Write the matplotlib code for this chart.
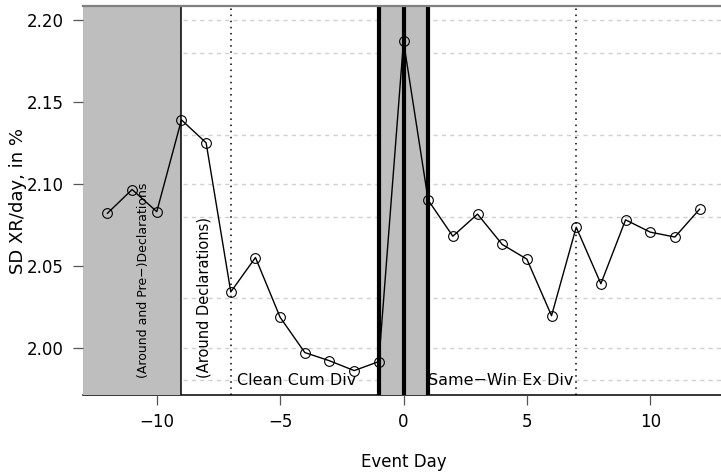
import numpy as np
import matplotlib.pyplot as plt

# SD of excess returns around the event day
days = np.arange(-12, 13)
sd_xr = [2.082, 2.0965, 2.083, 2.139, 2.125, 2.034, 2.055, 2.0185, 1.997,
         1.992, 1.986, 1.9915, 2.187, 2.090, 2.068, 2.0815, 2.063, 2.054,
         2.0195, 2.0735, 2.039, 2.078, 2.0705, 2.0675, 2.0845]

grid_levels = [1.98, 2.00, 2.03, 2.08, 2.10, 2.13, 2.18, 2.20]
y_ticks = [2.00, 2.05, 2.10, 2.15, 2.20]
x_ticks = [-10, -5, 0, 5, 10]

fig = plt.figure(figsize=(7.21, 4.72), dpi=100)
ax = fig.add_axes([83/721, 1 - 395/472, 641/721, 389/472])
ax.set_xlim(-12.99, 12.99)
ax.set_ylim(1.9711, 2.2085)

# dashed grid
for g in grid_levels:
    ax.axhline(g, color='#d0d0d0', lw=1, ls=(0, (3, 3)), zorder=0.5)

# shaded windows
ax.axvspan(-13.5, -9, color='#bebebe', lw=0, zorder=1)
ax.axvspan(-1, 1, color='#bebebe', lw=0, zorder=1)

ax.axvline(-9, color='black', lw=1.1, zorder=2)
for v in [-1, 0, 1]:
    ax.axvline(v, color='black', lw=3, zorder=2)
for v in [-7, 7]:
    ax.axvline(v, color='black', lw=1.1, ls=(0, (1, 3)), zorder=2)

ax.plot(days, sd_xr, color='black', lw=1, marker='o', ms=7,
        mfc='none', mec='black', mew=0.8, zorder=4)

ax.text(-10.55, 1.9815, '(Around and Pre\u2212)Declarations', rotation=90,
        ha='center', va='bottom', fontsize=9, zorder=5)
ax.text(-8.1, 1.9815, '(Around Declarations)', rotation=90,
        ha='center', va='bottom', fontsize=10.5, zorder=5)
ax.text(-6.75, 1.9802, 'Clean Cum Div', ha='left', va='center',
        fontsize=11.5, zorder=5)
ax.text(1.0, 1.9802, 'Same\u2212Win Ex Div', ha='left', va='center',
        fontsize=11.5, zorder=5)

# spines
ax.spines['left'].set_visible(False)
ax.spines['right'].set_visible(False)
ax.spines['top'].set_color('#808080')
ax.spines['top'].set_linewidth(1.6)
ax.spines['top'].set_zorder(6)
ax.spines['bottom'].set_color('black')
ax.spines['bottom'].set_linewidth(1.1)
ax.spines['bottom'].set_zorder(0.8)

ax.set_xticks(x_ticks)
ax.set_yticks(y_ticks)
ax.set_yticklabels(['%.2f' % v for v in y_ticks])
ax.tick_params(axis='both', direction='out', length=7, width=0.9,
               color='#555555', labelsize=12, pad=6)
ax.tick_params(axis='y', pad=7)

ax.set_xlabel('Event Day', fontsize=12)
ax.set_ylabel('SD XR/day, in %', fontsize=13)
ax.xaxis.set_label_coords(0.5, -0.15)
ax.yaxis.set_label_coords(-0.087, 0.5)

fig.savefig('out.png', dpi=100)
